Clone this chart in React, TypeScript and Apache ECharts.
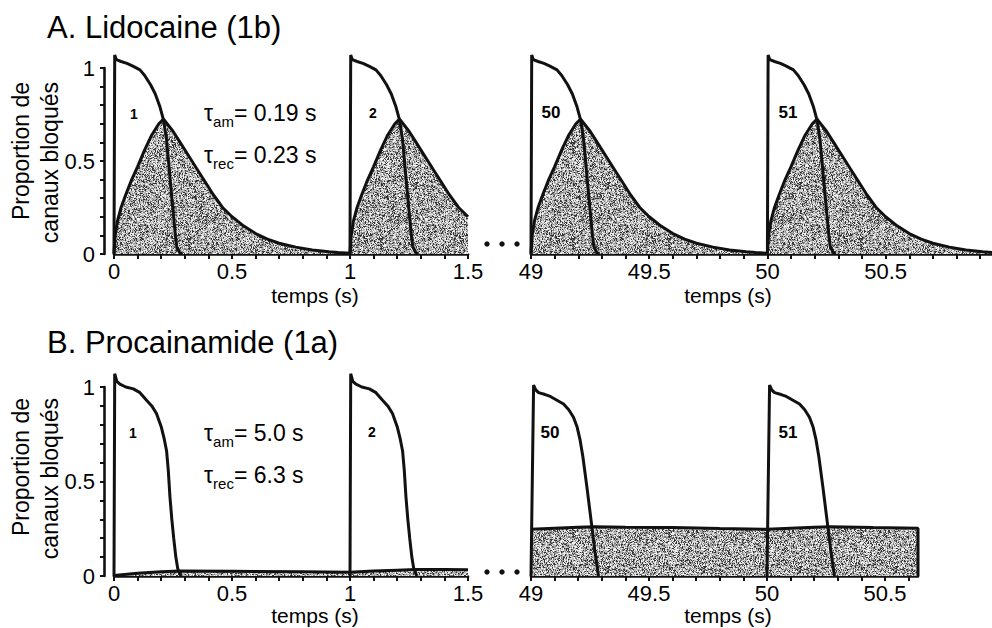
import React, { useEffect, useRef } from "react";
import * as echarts from "echarts";

// ---------- data ----------
// Action potential shape, panel A (time relative to stimulus, s ; value)
const apA: number[][] = [
  [0, 0], [0.003, 1.07], [0.01, 1.045], [0.03, 1.035], [0.055, 1.025], [0.08, 1.01],
  [0.11, 0.99], [0.13, 0.96], [0.155, 0.91], [0.175, 0.86], [0.195, 0.79], [0.21, 0.72],
  [0.223, 0.61], [0.23, 0.51], [0.24, 0.37], [0.25, 0.235], [0.26, 0.1], [0.266, 0.04],
  [0.278, 0.008], [0.29, 0],
];
// Fraction of blocked channels during one 1-s cycle, panel A
const blockCycleA: number[][] = [
  [0, 0.004], [0.005, 0.1], [0.015, 0.18], [0.03, 0.25], [0.05, 0.32], [0.075, 0.4],
  [0.1, 0.47], [0.13, 0.56], [0.16, 0.64], [0.19, 0.7], [0.21, 0.725], [0.25, 0.66],
  [0.28, 0.6], [0.32, 0.52], [0.35, 0.46], [0.39, 0.38], [0.42, 0.32], [0.46, 0.25],
  [0.5, 0.2], [0.55, 0.15], [0.6, 0.11], [0.65, 0.08], [0.7, 0.058], [0.77, 0.037],
  [0.84, 0.022], [0.91, 0.012], [0.95, 0.008], [1.0, 0.004],
];
// Action potential, panel B left (beats 1, 2)
const apBLeft: number[][] = [
  [0, 0], [0.003, 1.07], [0.012, 1.03], [0.025, 1.015], [0.05, 1.0], [0.082, 0.99],
  [0.11, 0.97], [0.138, 0.93], [0.16, 0.9], [0.18, 0.86], [0.2, 0.79], [0.212, 0.73],
  [0.223, 0.66], [0.23, 0.56], [0.237, 0.42], [0.245, 0.3], [0.253, 0.2], [0.262, 0.1],
  [0.27, 0.04], [0.28, 0.008], [0.285, 0],
];
// Action potential, panel B right (beats 50, 51)
const apBRight: number[][] = [
  [0, 0], [0.011, 1.01], [0.02, 0.985], [0.032, 0.97], [0.06, 0.96], [0.082, 0.95],
  [0.11, 0.93], [0.138, 0.91], [0.16, 0.88], [0.18, 0.84], [0.195, 0.79], [0.208, 0.72],
  [0.22, 0.63], [0.237, 0.47], [0.258, 0.26], [0.272, 0.12], [0.286, 0],
];
// Blocked fraction, panel B left (0 - 1.5 s)
const blockBLeft: number[][] = [
  [0, 0.003], [0.1, 0.015], [0.2, 0.022], [0.28, 0.026], [0.5, 0.025], [0.8, 0.022],
  [1.0, 0.02], [1.1, 0.026], [1.2, 0.031], [1.28, 0.035], [1.4, 0.034], [1.5, 0.033],
];
// Blocked fraction, panel B right (49 - 50.64 s)
const blockBRight: number[][] = [
  [49, 0.247], [49.1, 0.253], [49.2, 0.258], [49.27, 0.261], [49.4, 0.258], [49.6, 0.256],
  [49.8, 0.251], [50, 0.247], [50.1, 0.253], [50.2, 0.258], [50.27, 0.261], [50.45, 0.256],
  [50.64, 0.252], [50.64, 0],
];

const beatStartsLeft = [0, 1];
const beatStartsRight = [49, 50];

const xTicksLeft = [0, 0.1, 0.2, 0.3, 0.4, 0.5, 0.6, 0.7, 0.8, 0.9, 1, 1.1, 1.2, 1.3, 1.4, 1.5];
const xLabelsLeft = [0, 0.5, 1, 1.5];
const xTicksRightA = [49, 49.1, 49.2, 49.3, 49.4, 49.5, 49.6, 49.7, 49.8, 49.9, 50, 50.1, 50.2, 50.3, 50.4, 50.5, 50.6, 50.7, 50.8, 50.9];
const xTicksRightB = [49, 49.1, 49.2, 49.3, 49.4, 49.5, 49.6, 49.7, 49.8, 49.9, 50, 50.1, 50.2, 50.3, 50.4, 50.5, 50.6];
const xLabelsRight = [49, 49.5, 50, 50.5];
const yTicks = [0, 0.1, 0.2, 0.3, 0.4, 0.5, 0.6, 0.7, 0.8, 0.9, 1];
const yLabels = [0, 0.5, 1];

const beatLabelsLeft = ["1", "2"];
const beatLabelsRight = ["50", "51"];

// ---------- helpers ----------
const shift = (arr: number[][], dt: number, maxT = Infinity) =>
  arr.filter(([t]) => t <= maxT + 1e-9).map(([t, v]) => [t + dt, v]);

const FONT = "'Liberation Sans', Arial, Helvetica, sans-serif";
const INK = "#111";
const LW = 3;

// deterministic stipple texture (hash based, purely decorative)
function makeStipple(): HTMLCanvasElement {
  const size = 96;
  const c = document.createElement("canvas");
  c.width = size;
  c.height = size;
  const ctx = c.getContext("2d")!;
  const img = ctx.createImageData(size, size);
  for (let y = 0; y < size; y++) {
    for (let x = 0; x < size; x++) {
      let h = Math.imul(x, 374761393) + Math.imul(y, 668265263);
      h = Math.imul(h ^ (h >>> 13), 1274126177);
      h = (h ^ (h >>> 16)) >>> 0;
      const r = h / 4294967296;
      const v = r < 0.2 ? 50 : r < 0.4 ? 125 : r < 0.75 ? 185 : 240;
      const i = (y * size + x) * 4;
      img.data[i] = v;
      img.data[i + 1] = v;
      img.data[i + 2] = v;
      img.data[i + 3] = 255;
    }
  }
  ctx.putImageData(img, 0, 0);
  return c;
}

export default function App() {
  const ref = useRef<HTMLDivElement>(null);

  useEffect(() => {
    if (!ref.current) return;
    const chart = echarts.init(ref.current, null, { renderer: "svg", width: 992, height: 628 });

    let fill: any = "#a8a8a8";
    try {
      fill = { image: makeStipple(), repeat: "repeat" };
    } catch (e) {
      fill = "#a8a8a8";
    }

    const grids = [
      { left: 114, top: 68, width: 354, height: 186 },
      { left: 531, top: 68, width: 461, height: 186 },
      { left: 114, top: 387, width: 354, height: 189 },
      { left: 531, top: 387, width: 387, height: 189 },
    ];
    const xRanges = [
      [0, 1.5, xTicksLeft, xLabelsLeft],
      [49, 50.95, xTicksRightA, xLabelsRight],
      [0, 1.5, xTicksLeft, xLabelsLeft],
      [49, 50.64, xTicksRightB, xLabelsRight],
    ] as const;

    const xAxes = xRanges.map(([min, max, ticks, labels], i) => ({
      type: "value",
      gridIndex: i,
      min,
      max,
      axisLine: { show: true, onZero: false, lineStyle: { color: INK, width: 2.6 } },
      axisTick: { show: true, length: 5, inside: false, customValues: ticks as any, lineStyle: { color: INK, width: 2 } },
      axisLabel: { show: true, customValues: labels as any, margin: 6, color: "#000", fontSize: 22, fontFamily: FONT },
      splitLine: { show: false },
    }));
    const yAxes = [0, 1, 2, 3].map((i) => ({
      type: "value",
      gridIndex: i,
      min: 0,
      max: 1,
      show: i === 0 || i === 2,
      offset: 10,
      axisLine: { show: true, onZero: false, lineStyle: { color: INK, width: 2.6 } },
      axisTick: { show: true, length: 4, customValues: yTicks as any, lineStyle: { color: INK, width: 2 } },
      axisLabel: { show: true, customValues: yLabels as any, margin: 9, color: "#000", fontSize: 22, fontFamily: FONT },
      splitLine: { show: false },
    }));

    const blockSeries = (idx: number, data: number[][]) => ({
      type: "line",
      xAxisIndex: idx,
      yAxisIndex: idx,
      data,
      showSymbol: false,
      clip: false,
      silent: true,
      z: 2,
      lineStyle: { color: INK, width: LW },
      areaStyle: { color: fill, opacity: 1 },
    });
    const apSeries = (idx: number, data: number[][]) => ({
      type: "line",
      xAxisIndex: idx,
      yAxisIndex: idx,
      data,
      showSymbol: false,
      clip: false,
      silent: true,
      z: 3,
      lineStyle: { color: INK, width: LW },
    });

    const blockALeft = [...shift(blockCycleA, beatStartsLeft[0]), ...shift(blockCycleA, beatStartsLeft[1], 0.5)];
    const blockARight = [...shift(blockCycleA, beatStartsRight[0]), ...shift(blockCycleA, beatStartsRight[1], 0.95)];

    const series: any[] = [
      blockSeries(0, blockALeft),
      blockSeries(1, blockARight),
      blockSeries(2, blockBLeft),
      blockSeries(3, blockBRight),
      ...beatStartsLeft.map((s) => apSeries(0, shift(apA, s))),
      ...beatStartsRight.map((s) => apSeries(1, shift(apA, s))),
      ...beatStartsLeft.map((s) => apSeries(2, shift(apBLeft, s))),
      ...beatStartsRight.map((s) => apSeries(3, shift(apBRight, s))),
    ];

    const txt = (text: string, x: number, y: number, fontSize: number, extra: any = {}) => ({
      type: "text",
      x,
      y,
      silent: true,
      style: { text, fontSize, fontFamily: FONT, fill: "#000", ...extra },
    });
    const tau = (sub: string, value: string, x: number, y: number) => ({
      type: "text",
      x,
      y,
      silent: true,
      style: {
        text: `{t|τ}{s|${sub}}{t|= ${value}}`,
        verticalAlign: "middle",
        fill: "#000",
        rich: {
          t: { fontSize: 23, fontFamily: FONT, fill: "#000", lineHeight: 32, verticalAlign: "middle" },
          s: { fontSize: 15, fontFamily: FONT, fill: "#000", lineHeight: 32, verticalAlign: "bottom" },
        },
      },
    });
    const dots = (y: number) =>
      [487, 502, 517].map((x) => ({ type: "circle", silent: true, shape: { cx: x, cy: y, r: 2.7 }, style: { fill: INK } }));
    const yName = (y: number) => ({
      type: "text",
      x: 35,
      y,
      rotation: Math.PI / 2,
      silent: true,
      style: {
        text: "Proportion de\ncanaux bloqués",
        fontSize: 23,
        lineHeight: 29,
        fontFamily: FONT,
        fill: "#000",
        align: "right",
        verticalAlign: "middle",
      },
    });
    const tempsName = (x: number, y: number) =>
      txt("temps (s)", x, y, 21, { align: "center", verticalAlign: "middle", lineHeight: 17 });

    const graphic: any[] = [
      txt("A. Lidocaine (1b)", 47, 27, 31, { verticalAlign: "middle" }),
      txt("B. Procainamide (1a)", 47, 342, 31, { verticalAlign: "middle" }),
      yName(82),
      yName(398),
      tempsName(315, 295),
      tempsName(728, 295),
      tempsName(315, 615),
      tempsName(728, 615),
      tau("am", "0.19 s", 204, 113),
      tau("rec", "0.23 s", 204, 155),
      tau("am", "5.0 s", 204, 433),
      tau("rec", "6.3 s", 204, 475),
      txt(beatLabelsLeft[0], 134, 114, 14, { align: "center", verticalAlign: "middle", fontWeight: "bold" }),
      txt(beatLabelsLeft[1], 373, 113, 14, { align: "center", verticalAlign: "middle", fontWeight: "bold" }),
      txt(beatLabelsRight[0], 551, 112, 17, { align: "center", verticalAlign: "middle", fontWeight: "bold" }),
      txt(beatLabelsRight[1], 788, 112, 17, { align: "center", verticalAlign: "middle", fontWeight: "bold" }),
      txt(beatLabelsLeft[0], 133, 433, 14, { align: "center", verticalAlign: "middle", fontWeight: "bold" }),
      txt(beatLabelsLeft[1], 372, 432, 14, { align: "center", verticalAlign: "middle", fontWeight: "bold" }),
      txt(beatLabelsRight[0], 550, 432, 17, { align: "center", verticalAlign: "middle", fontWeight: "bold" }),
      txt(beatLabelsRight[1], 788, 432, 17, { align: "center", verticalAlign: "middle", fontWeight: "bold" }),
      ...dots(244),
      ...dots(572),
    ];

    chart.setOption({
      animation: false,
      backgroundColor: "#fff",
      textStyle: { fontFamily: FONT },
      grid: grids.map((g) => ({ ...g, containLabel: false })),
      xAxis: xAxes,
      yAxis: yAxes,
      series,
      graphic,
    });

    return () => chart.dispose();
  }, []);

  return (
    <div
      ref={ref}
      style={{ position: "fixed", left: 0, top: 0, width: 992, height: 628, background: "#fff" }}
    />
  );
}
